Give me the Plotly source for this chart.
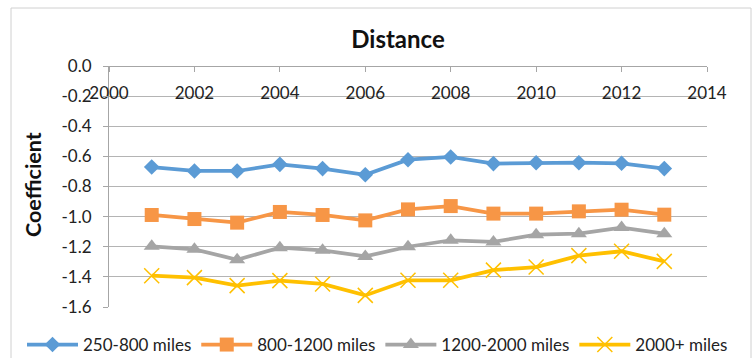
import plotly.graph_objects as go

# Survey years
years = [2001, 2002, 2003, 2004, 2005, 2006, 2007, 2008, 2009, 2010, 2011, 2012, 2013]

# Estimated distance coefficients by haul-length band
band_250_800 = [-0.671, -0.697, -0.697, -0.653, -0.681, -0.722, -0.622, -0.604, -0.648, -0.642, -0.642, -0.646, -0.681]
band_800_1200 = [-0.989, -1.016, -1.040, -0.969, -0.989, -1.025, -0.952, -0.930, -0.980, -0.980, -0.965, -0.954, -0.987]
band_1200_2000 = [-1.197, -1.217, -1.286, -1.206, -1.224, -1.264, -1.200, -1.157, -1.168, -1.120, -1.113, -1.073, -1.113]
band_2000_plus = [-1.392, -1.405, -1.458, -1.425, -1.447, -1.523, -1.423, -1.423, -1.355, -1.335, -1.259, -1.230, -1.297]

series_names = ["250-800 miles", "800-1200 miles", "1200-2000 miles", "2000+ miles"]

# Axis ticks
x_ticks = [2000, 2002, 2004, 2006, 2008, 2010, 2012, 2014]
y_ticks = [0.0, -0.2, -0.4, -0.6, -0.8, -1.0, -1.2, -1.4, -1.6]
y_tick_labels = ["0.0", "-0.2", "-0.4", "-0.6", "-0.8", "-1.0", "-1.2", "-1.4", "-1.6"]

W, H = 756, 358
L, R, T, B = 109, 49, 66, 51
PW, PH = W - L - R, H - T - B
FONT = "Lato, Carlito, Calibri, sans-serif"


def px_x(px):
    """Pixel column -> paper x."""
    return (px - L) / PW


def px_y(py):
    """Pixel row (from top) -> paper y."""
    return (H - B - py) / PH


styles = [
    dict(color="#5B9BD5", symbol="diamond", size=12),
    dict(color="#F79646", symbol="square", size=14),
    dict(color="#A5A5A5", symbol="triangle-up", size=14),
    dict(color="#FFC000", symbol="x-thin", size=15),
]

fig = go.Figure()
for name, vals, st in zip(series_names,
                          [band_250_800, band_800_1200, band_1200_2000, band_2000_plus],
                          styles):
    marker = dict(color=st["color"], symbol=st["symbol"], size=st["size"])
    if st["symbol"] == "x-thin":
        marker["line"] = dict(color=st["color"], width=1.5)
    fig.add_trace(go.Scatter(
        x=years, y=vals, name=name, mode="lines+markers",
        line=dict(color=st["color"], width=3.75),
        marker=marker,
    ))

fig.update_layout(
    width=W, height=H,
    margin=dict(l=L, r=R, t=T, b=B, autoexpand=False),
    paper_bgcolor="white", plot_bgcolor="white",
    font=dict(family=FONT, size=17, color="#222222"),
    title=dict(text="<b>Distance</b>", x=398 / W, xanchor="center",
               y=1 - 40 / H, yanchor="middle",
               font=dict(family=FONT, size=24, color="#111111")),
    showlegend=True,
    legend=dict(orientation="h", x=px_x(22), xanchor="left",
                y=px_y(345), yanchor="middle",
                font=dict(family=FONT, size=17, color="#222222"),
                itemwidth=51, bgcolor="rgba(0,0,0,0)"),
    # category axis sits on the zero line at the top, labels hanging below it
    xaxis=dict(range=[2000, 2014], tickvals=x_ticks,
               anchor="free", position=1, side="bottom",
               ticks="outside", ticklen=5, tickcolor="#A6A6A6",
               ticklabelstandoff=7,
               showline=True, linecolor="#A6A6A6", linewidth=1,
               showgrid=False, zeroline=False,
               tickfont=dict(family=FONT, size=17, color="#222222")),
    yaxis=dict(range=[-1.6, 0], tickvals=y_ticks, ticktext=y_tick_labels,
               ticks="outside", ticklen=5, tickcolor="#A6A6A6",
               ticklabelstandoff=8,
               showline=True, linecolor="#A6A6A6", linewidth=1,
               showgrid=True, gridcolor="#B4B4B4", gridwidth=1,
               zeroline=False,
               tickfont=dict(family=FONT, size=17, color="#222222")),
    annotations=[dict(text="<b>Coefficient</b>", textangle=-90,
                      xref="paper", yref="paper", x=px_x(33), y=px_y(185),
                      xanchor="center", yanchor="middle", showarrow=False,
                      font=dict(family=FONT, size=21.5, color="#111111"))],
    shapes=[dict(type="rect", xref="paper", yref="paper",
                 x0=px_x(11), x1=px_x(751), y0=px_y(370), y1=px_y(8),
                 line=dict(color="#D0D0D0", width=1), layer="below")],
)

fig.write_html("out.html")
